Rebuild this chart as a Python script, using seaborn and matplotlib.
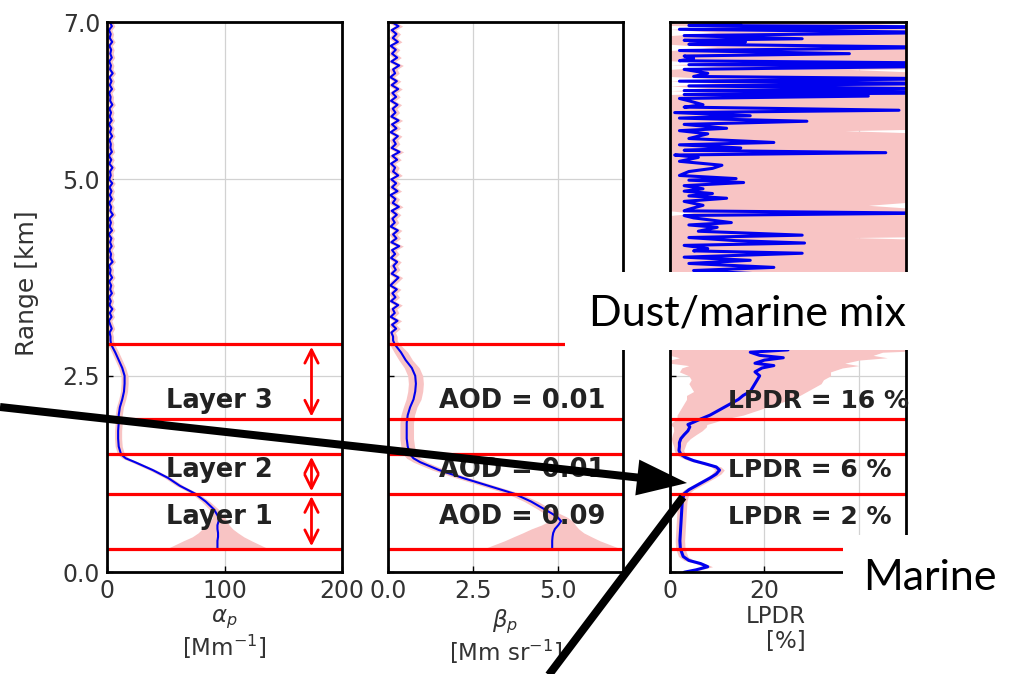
import numpy as np
import pandas as pd
import matplotlib
matplotlib.use("Agg")
import matplotlib.pyplot as plt
import seaborn as sns
from matplotlib.patches import Rectangle, FancyArrow

# ---------------- data ----------------
# lower part of the alpha / beta profiles (km)
h_low = [0.30, 0.35, 0.40, 0.45, 0.50, 0.55, 0.60, 0.65, 0.70, 0.75,
         0.80, 0.90, 1.00, 1.10, 1.20, 1.30, 1.40, 1.45, 1.50, 1.60,
         1.70, 1.80, 1.90, 2.00, 2.10, 2.20, 2.30, 2.40, 2.50, 2.60,
         2.70, 2.80, 2.90, 2.95]
alpha_low = [94, 94, 94, 94.5, 94.5, 94, 94, 95, 95, 93,
             91, 84, 75, 62, 52, 39, 24, 16, 12, 10,
             9.5, 9.5, 10, 10, 11, 13, 14.5, 15, 15, 13,
             10, 7, 3.5, 3]
alpha_low_err = [43, 36, 29, 22, 17, 13, 10, 7, 5, 4,
                 4, 3.5, 3, 3, 3, 3, 3, 3, 3, 3,
                 3, 3, 3, 3, 3, 3, 3, 3, 3, 3,
                 3, 3, 3, 2.5]
beta_low = [4.82, 4.82, 4.82, 4.83, 4.85, 4.90, 5.00, 5.08, 4.98, 4.80,
            4.60, 4.20, 3.70, 2.95, 2.20, 1.50, 0.95, 0.75, 0.65, 0.58,
            0.55, 0.55, 0.55, 0.58, 0.65, 0.75, 0.80, 0.82, 0.80, 0.70,
            0.52, 0.38, 0.20, 0.15]
beta_low_err = [2.0, 1.7, 1.4, 1.15, 0.9, 0.7, 0.5, 0.35, 0.28, 0.22,
                0.2, 0.2, 0.2, 0.2, 0.2, 0.2, 0.2, 0.2, 0.2, 0.2,
                0.2, 0.2, 0.2, 0.2, 0.2, 0.22, 0.22, 0.22, 0.22, 0.22,
                0.2, 0.2, 0.15, 0.12]

# upper (noisy) part of alpha / beta profiles
h_up = [3.00, 3.05, 3.10, 3.15, 3.20, 3.25, 3.30, 3.35, 3.40, 3.45,
        3.50, 3.55, 3.60, 3.65, 3.70, 3.75, 3.80, 3.85, 3.90, 3.95,
        4.00, 4.05, 4.10, 4.15, 4.20, 4.25, 4.30, 4.35, 4.40, 4.45,
        4.50, 4.55, 4.60, 4.65, 4.70, 4.75, 4.80, 4.85, 4.90, 4.95,
        5.00, 5.05, 5.10, 5.15, 5.20, 5.25, 5.30, 5.35, 5.40, 5.45,
        5.50, 5.55, 5.60, 5.65, 5.70, 5.75, 5.80, 5.85, 5.90, 5.95,
        6.00, 6.05, 6.10, 6.15, 6.20, 6.25, 6.30, 6.35, 6.40, 6.45,
        6.50, 6.55, 6.60, 6.65, 6.70, 6.75, 6.80, 6.85, 6.90, 6.95,
        7.00]
alpha_up = [3.0, 2.2, 4.1, 2.8, 1.6, 3.9, 2.4, 4.6, 2.1, 3.3,
            1.8, 4.2, 2.7, 3.6, 1.9, 4.4, 2.5, 3.1, 1.7, 4.8,
            2.9, 3.5, 2.0, 4.0, 2.6, 3.8, 1.5, 4.3, 2.3, 3.4,
            2.1, 5.0, 2.8, 3.6, 1.8, 4.1, 2.4, 3.9, 2.2, 4.5,
            1.9, 3.2, 2.6, 4.7, 2.0, 3.7, 1.6, 4.2, 2.9, 3.3,
            2.1, 4.4, 2.5, 3.8, 1.7, 4.0, 2.3, 3.5, 2.0, 4.6,
            2.7, 3.1, 1.8, 4.3, 2.4, 3.9, 2.2, 4.9, 2.6, 3.4,
            1.9, 4.1, 2.8, 3.6, 2.0, 4.5, 2.3, 3.2, 1.7, 4.2,
            2.5]
alpha_up_err = 2.5
beta_up = [0.15, 0.10, 0.24, 0.12, 0.28, 0.08, 0.20, 0.14, 0.30, 0.09,
           0.22, 0.13, 0.26, 0.07, 0.19, 0.31, 0.11, 0.23, 0.16, 0.27,
           0.09, 0.21, 0.12, 0.33, 0.10, 0.25, 0.15, 0.29, 0.08, 0.20,
           0.13, 0.26, 0.11, 0.32, 0.14, 0.22, 0.07, 0.28, 0.12, 0.24,
           0.10, 0.30, 0.15, 0.21, 0.09, 0.27, 0.13, 0.34, 0.11, 0.23,
           0.16, 0.29, 0.08, 0.25, 0.12, 0.31, 0.10, 0.22, 0.14, 0.28,
           0.09, 0.24, 0.13, 0.30, 0.11, 0.26, 0.07, 0.21, 0.15, 0.33,
           0.10, 0.27, 0.12, 0.23, 0.08, 0.29, 0.14, 0.25, 0.11, 0.31,
           0.12]
beta_up_err = 0.12

# LPDR profile
lpdr_km = [0.00, 0.03, 0.07, 0.11, 0.15, 0.20, 0.30, 0.40, 0.50, 0.60,
           0.70, 0.80, 0.90, 1.00, 1.05, 1.10, 1.15, 1.20, 1.25, 1.30,
           1.34, 1.38, 1.42, 1.46, 1.50, 1.55, 1.60, 1.65, 1.70, 1.75,
           1.80, 1.85, 1.88, 1.91, 1.95, 2.00, 2.05, 2.10, 2.15, 2.20,
           2.25, 2.30, 2.35, 2.40, 2.45, 2.50, 2.55, 2.60, 2.63, 2.66,
           2.70, 2.73, 2.76, 2.80, 2.83, 2.86, 2.90, 3.00, 3.10, 3.20,
           3.30, 3.40, 3.50, 3.60, 3.70, 3.80, 3.84, 3.88, 3.93, 3.97,
           4.01, 4.06, 4.09, 4.12, 4.16, 4.19, 4.22, 4.26, 4.29, 4.34,
           4.39, 4.42, 4.45, 4.51, 4.54, 4.57, 4.60, 4.62, 4.67, 4.72,
           4.76, 4.79, 4.82, 4.85, 4.88, 4.92, 4.96, 4.99, 5.01, 5.05,
           5.10, 5.14, 5.18, 5.23, 5.28, 5.31, 5.34, 5.37, 5.40, 5.44,
           5.47, 5.52, 5.58, 5.62, 5.65, 5.70, 5.74, 5.78, 5.81, 5.85,
           5.88, 5.92, 5.95, 6.00, 6.03, 6.06, 6.08, 6.10, 6.13, 6.15,
           6.19, 6.22, 6.25, 6.28, 6.31, 6.35, 6.40, 6.44, 6.46, 6.48,
           6.51, 6.54, 6.57, 6.60, 6.64, 6.68, 6.72, 6.75, 6.77, 6.79,
           6.83, 6.87, 6.91, 6.94, 6.96, 6.98, 7.00]
lpdr_pct = [3.0, 5.5, 8.0, 6.5, 4.0, 2.8, 2.2, 2.1, 2.2, 2.3,
            2.4, 2.5, 2.6, 3.0, 4.0, 5.5, 7.0, 8.5, 9.8, 10.5,
            9.8, 7.5, 5.0, 3.3, 2.3, 1.9, 2.0, 2.0, 2.3, 3.0,
            3.8, 4.2, 3.8, 5.0, 6.5, 8.5, 10.0, 11.5, 13.0, 14.5,
            15.5, 17.0, 17.5, 18.0, 18.5, 19.0, 18.0, 19.5, 22.0, 18.0,
            20.0, 24.0, 19.0, 17.0, 25.0, 19.0, 15.0, 22.0, 12.0, 30.0,
            8.0, 20.0, 6.0, 25.0, 9.0, 18.0, 5.0, 22.0, 4.0, 17.0,
            3.0, 28.0, 5.0, 8.0, 3.0, 28.5, 14.0, 4.0, 28.0, 6.0,
            10.0, 4.0, 13.0, 5.0, 3.0, 55.0, 3.0, 4.0, 7.0, 3.0,
            12.0, 4.0, 9.0, 3.0, 7.0, 3.0, 15.6, 4.0, 14.0, 2.0,
            4.0, 9.0, 11.0, 2.0, 6.0, 1.0, 45.7, 3.0, 15.0, 2.0,
            22.0, 4.0, 8.0, 2.0, 12.0, 3.0, 29.0, 2.0, 17.0, 1.0,
            48.5, 3.0, 7.0, 4.0, 2.0, 42.0, 3.0, 60.0, 3.0, 60.0,
            4.0, 60.0, 2.0, 60.0, 5.0, 8.0, 3.0, 60.0, 4.0, 60.0,
            2.0, 5.0, 3.0, 38.0, 2.0, 60.0, 4.0, 16.0, 3.0, 28.0,
            3.0, 60.0, 2.0, 60.0, 4.0, 15.0, 10.0]
lpdr_err = [1, 1, 1, 1, 1, 1, 1, 1, 1, 1,
            1, 1, 1, 1, 1, 1, 1, 1, 1, 1,
            1, 1, 1, 1, 1, 1, 1.2, 1.5, 2, 2.5,
            3, 3.5, 4, 4.5, 5, 7, 8, 9, 10, 11,
            12, 12, 13, 14, 14, 15, 16, 17, 18, 19,
            20, 22, 24, 28, 32, 36, 40, 50, 50, 50,
            50, 50, 50, 50, 50, 50, 50, 50, 50, 50,
            50, 50, 50, 50, 50, 50, 50, 35, 50, 50,
            50, 50, 50, 50, 50, 50, 50, 50, 35, 50,
            50, 50, 50, 50, 50, 50, 50, 50, 50, 50,
            50, 50, 50, 50, 50, 50, 50, 50, 50, 50,
            50, 50, 50, 35, 50, 50, 50, 50, 50, 50,
            50, 50, 50, 50, 50, 50, 50, 50, 50, 50,
            50, 50, 50, 50, 50, 50, 35, 50, 50, 50,
            50, 50, 50, 50, 50, 50, 50, 50, 50, 50,
            50, 50, 50, 50, 50, 30, 30]

layer_bounds = [0.30, 1.00, 1.50, 1.95, 2.90]
layer_names = ["Layer 1", "Layer 2", "Layer 3"]
aod_labels = ["AOD = 0.09", "AOD = 0.01", "AOD = 0.01"]
lpdr_labels = ["LPDR = 2 %", "LPDR = 6 %", "LPDR = 16 %"]
label_km = [0.70, 1.30, 2.18]
arrow_spans = [(0.33, 0.97), (1.03, 1.47), (1.98, 2.87)]

# ---------------- style ----------------
sns.set_theme(style="ticks")
plt.rcParams['font.family'] = ['DejaVu Sans']
plt.rcParams['mathtext.fontset'] = 'dejavusans'

PINK = '#f8c4c4'
BLUE = '#0000ee'
TXT = '#333333'

fig = plt.figure(figsize=(10.09, 6.74), dpi=100)
fig.patch.set_facecolor('white')
positions = [[0.106, 0.151, 0.233, 0.816],
             [0.3845, 0.151, 0.233, 0.816],
             [0.664, 0.151, 0.234, 0.816]]
axes = [fig.add_axes(p) for p in positions]


def draw_profile(ax, km, val, err, lw):
    km = np.asarray(km, float)
    val = np.asarray(val, float)
    err = np.broadcast_to(np.asarray(err, float), val.shape)
    ax.fill_betweenx(km, np.clip(val - err, 0, None), val + err,
                     color=PINK, lw=0, zorder=1)
    df = pd.DataFrame({'km': km, 'v': val})
    sns.lineplot(data=df, x='v', y='km', orient='y', sort=False,
                 estimator=None, color=BLUE, lw=lw, ax=ax, zorder=3)


draw_profile(axes[0], h_low + h_up, alpha_low + alpha_up,
             alpha_low_err + [alpha_up_err] * len(h_up), 1.5)
draw_profile(axes[1], h_low + h_up, beta_low + beta_up,
             beta_low_err + [beta_up_err] * len(h_up), 1.5)
draw_profile(axes[2], lpdr_km, lpdr_pct, lpdr_err, 2.2)

xlims = [(0, 200), (0, 6.9), (0, 50)]
xticks = [[0, 100, 200], [0, 2.5, 5.0], [0, 20, 40]]
xticklabels = [['0', '100', '200'], ['0.0', '2.5', '5.0'], ['0', '20', '40']]
xlabels = [r'$\alpha_p$' + '\n' + r'[Mm$^{-1}$]',
           r'$\beta_p$' + '\n' + r'[Mm sr$^{-1}$]',
           'LPDR\n[%]']

for i, ax in enumerate(axes):
    ax.set_xlim(*xlims[i])
    ax.set_ylim(0, 7)
    ax.set_xticks(xticks[i])
    ax.set_xticklabels(xticklabels[i])
    ax.set_yticks([0, 2.5, 5.0, 7.0])
    ax.set_yticklabels(['0.0', '2.5', '5.0', '7.0'])
    ax.grid(True, color='#d2d2d2', lw=0.9)
    ax.set_axisbelow(True)
    for s in ax.spines.values():
        s.set_color('black')
        s.set_linewidth(2.0)
        s.set_zorder(6)
    ax.tick_params(direction='in', length=4, width=1, color='black',
                   labelsize=17, labelcolor=TXT, pad=5,
                   top=False, right=False)
    ax.set_xlabel(xlabels[i], fontsize=16.5, color=TXT, labelpad=3,
                  linespacing=1.1)
    if i > 0:
        ax.tick_params(labelleft=False)
        ax.set_ylabel('')
    for b in layer_bounds:
        ax.axhline(b, color='red', lw=2.3, zorder=4)

axes[0].set_ylabel('Range [km]', fontsize=18, color=TXT, labelpad=6)
axes[0].yaxis.set_label_coords(-0.29, 0.525)
axes[2].xaxis.label.set_multialignment('right')
axes[2].xaxis.set_label_coords(0.45, -0.06)
axes[2].xaxis.label.set_va('top')

for name, aod, lp, y in zip(layer_names, aod_labels, lpdr_labels, label_km):
    axes[0].text(96, y, name, ha='center', va='center', fontsize=18.5,
                 fontweight='bold', color='#222222', zorder=7)
    axes[1].text(3.94, y, aod, ha='center', va='center', fontsize=18.5,
                 fontweight='bold', color='#222222', zorder=7)
    axes[2].text(12.3, y, lp, ha='left', va='center', fontsize=18,
                 fontweight='bold', color='#222222', zorder=7)

for lo, hi in arrow_spans:
    axes[0].annotate('', xy=(174, lo), xytext=(174, hi),
                     arrowprops=dict(arrowstyle='<->', color='red', lw=2,
                                     mutation_scale=24, shrinkA=0, shrinkB=0),
                     zorder=7)

# ---------------- slide overlay (pixel coordinates) ----------------
ov = fig.add_axes([0, 0, 1, 1], zorder=20)
ov.set_xlim(0, 1009)
ov.set_ylim(674, 0)
ov.axis('off')
ov.patch.set_alpha(0)

ov.add_patch(FancyArrow(0, 407, 687, 76, width=8, head_width=36,
                        head_length=50, length_includes_head=True,
                        color='black', lw=0))
ov.plot([545, 683], [680, 497], color='black', lw=5.8, solid_capstyle='butt')

ov.add_patch(Rectangle((565, 272), 360, 78, facecolor='white', edgecolor='none'))
ov.text(747, 313, 'Dust/marine mix', fontsize=31, family='Lato',
        ha='center', va='center', color='black')
ov.add_patch(Rectangle((843, 535), 166, 88, facecolor='white', edgecolor='none'))
ov.text(930, 578, 'Marine', fontsize=31, family='Lato',
        ha='center', va='center', color='black')

fig.savefig('out.png', dpi=100)
